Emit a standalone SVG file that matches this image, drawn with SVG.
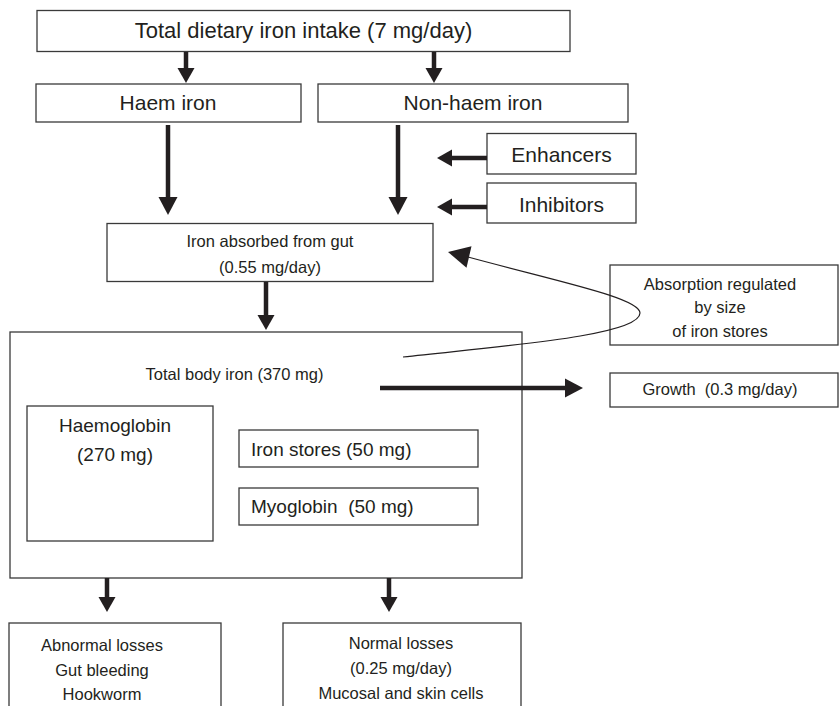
<svg xmlns="http://www.w3.org/2000/svg" width="839" height="706" viewBox="0 0 839 706">
  <style>
    .box { fill: #ffffff; stroke: #3a3a3a; stroke-width: 1.3; }
    .t { font-family: "Liberation Sans", Arial, sans-serif; fill: #231f20; }
    .c { text-anchor: middle; }
    .thick { stroke: #231f20; stroke-width: 4.5; fill: none; }
    .thin { stroke: #231f20; stroke-width: 1.2; fill: none; }
  </style>
  <defs>
    <marker id="hb" markerUnits="userSpaceOnUse" markerWidth="19" markerHeight="20" refX="0" refY="9.5" orient="auto" overflow="visible">
      <path d="M0,0 L18,9.5 L0,19 z" fill="#231f20"/>
    </marker>
    <marker id="hs" markerUnits="userSpaceOnUse" markerWidth="16" markerHeight="18" refX="0" refY="8.5" orient="auto" overflow="visible">
      <path d="M0,0 L15,8.5 L0,17 z" fill="#231f20"/>
    </marker>
  </defs>
  <rect width="839" height="706" fill="#ffffff"/>

  <g id="total-intake">
    <rect class="box" x="37" y="10.5" width="533" height="41"/>
    <text class="t c" x="303.5" y="38" font-size="22">Total dietary iron intake (7 mg/day)</text>
  </g>
  <g id="haem-iron">
    <rect class="box" x="36" y="84" width="265" height="38"/>
    <text class="t c" x="168" y="110" font-size="21">Haem iron</text>
  </g>
  <g id="non-haem-iron">
    <rect class="box" x="318" y="84" width="310" height="38"/>
    <text class="t c" x="473" y="110" font-size="21">Non-haem iron</text>
  </g>
  <g id="enhancers">
    <rect class="box" x="487" y="133.5" width="149" height="40.5"/>
    <text class="t c" x="561.5" y="162" font-size="21">Enhancers</text>
  </g>
  <g id="inhibitors">
    <rect class="box" x="487" y="183" width="149" height="40"/>
    <text class="t c" x="561.5" y="211.5" font-size="21">Inhibitors</text>
  </g>
  <g id="iron-absorbed">
    <rect class="box" x="107" y="223.5" width="326" height="58"/>
    <text class="t c" x="270" y="247" font-size="16.5">Iron absorbed from gut</text>
    <text class="t c" x="270" y="273" font-size="16.5">(0.55 mg/day)</text>
  </g>
  <g id="absorption-regulated">
    <rect class="box" x="610" y="265" width="228" height="80"/>
    <text class="t c" x="720" y="290" font-size="16.5">Absorption regulated</text>
    <text class="t c" x="720" y="313" font-size="16.5">by size</text>
    <text class="t c" x="720" y="337" font-size="16.5">of iron stores</text>
  </g>
  <g id="total-body-iron">
    <rect class="box" x="10" y="332" width="512" height="246"/>
    <text class="t c" x="234.5" y="380" font-size="16.5">Total body iron (370 mg)</text>
  </g>
  <g id="haemoglobin">
    <rect class="box" x="27" y="406" width="186" height="135"/>
    <text class="t c" x="115" y="432" font-size="19">Haemoglobin</text>
    <text class="t c" x="115" y="461" font-size="19">(270 mg)</text>
  </g>
  <g id="iron-stores">
    <rect class="box" x="239" y="430" width="239" height="37"/>
    <text class="t" x="251" y="456" font-size="19">Iron stores (50 mg)</text>
  </g>
  <g id="myoglobin">
    <rect class="box" x="239" y="488" width="239" height="37"/>
    <text class="t" x="251" y="513" font-size="19" xml:space="preserve">Myoglobin  (50 mg)</text>
  </g>
  <g id="growth">
    <rect class="box" x="610" y="373" width="228" height="34"/>
    <text class="t c" x="720" y="395" font-size="16.5" xml:space="preserve">Growth  (0.3 mg/day)</text>
  </g>
  <g id="abnormal-losses">
    <rect class="box" x="9" y="623" width="212" height="90"/>
    <text class="t c" x="102" y="651" font-size="16.5">Abnormal losses</text>
    <text class="t c" x="102" y="676" font-size="16.5">Gut bleeding</text>
    <text class="t c" x="102" y="700" font-size="16.5">Hookworm</text>
  </g>
  <g id="normal-losses">
    <rect class="box" x="283" y="623" width="238" height="90"/>
    <text class="t c" x="401" y="649" font-size="16.5">Normal losses</text>
    <text class="t c" x="401" y="674" font-size="16.5">(0.25 mg/day)</text>
    <text class="t c" x="401" y="699" font-size="16.5">Mucosal and skin cells</text>
  </g>

  <g id="connectors">
    <line class="thick" x1="186" y1="52" x2="186" y2="68" marker-end="url(#hs)"/>
    <line class="thick" x1="434" y1="52" x2="434" y2="68" marker-end="url(#hs)"/>
    <line class="thick" x1="168" y1="125" x2="168" y2="197" marker-end="url(#hb)"/>
    <line class="thick" x1="398" y1="125" x2="398" y2="197" marker-end="url(#hb)"/>
    <line class="thick" x1="487" y1="158" x2="452" y2="158" marker-end="url(#hs)"/>
    <line class="thick" x1="487" y1="207" x2="452" y2="207" marker-end="url(#hs)"/>
    <line class="thick" x1="266" y1="282" x2="266" y2="315" marker-end="url(#hs)"/>
    <line class="thick" x1="380" y1="388" x2="565" y2="388" marker-end="url(#hb)"/>
    <line class="thick" x1="107" y1="578" x2="107" y2="597" marker-end="url(#hs)"/>
    <line class="thick" x1="389" y1="578" x2="389" y2="597" marker-end="url(#hs)"/>
    <path class="thin" d="M403,357 C500,346 640,336 640,313 C640,298 560,282 468,257"/>
    <polygon points="448,252 471.5,246.3 466.5,267.7" fill="#231f20"/>
  </g>
</svg>
